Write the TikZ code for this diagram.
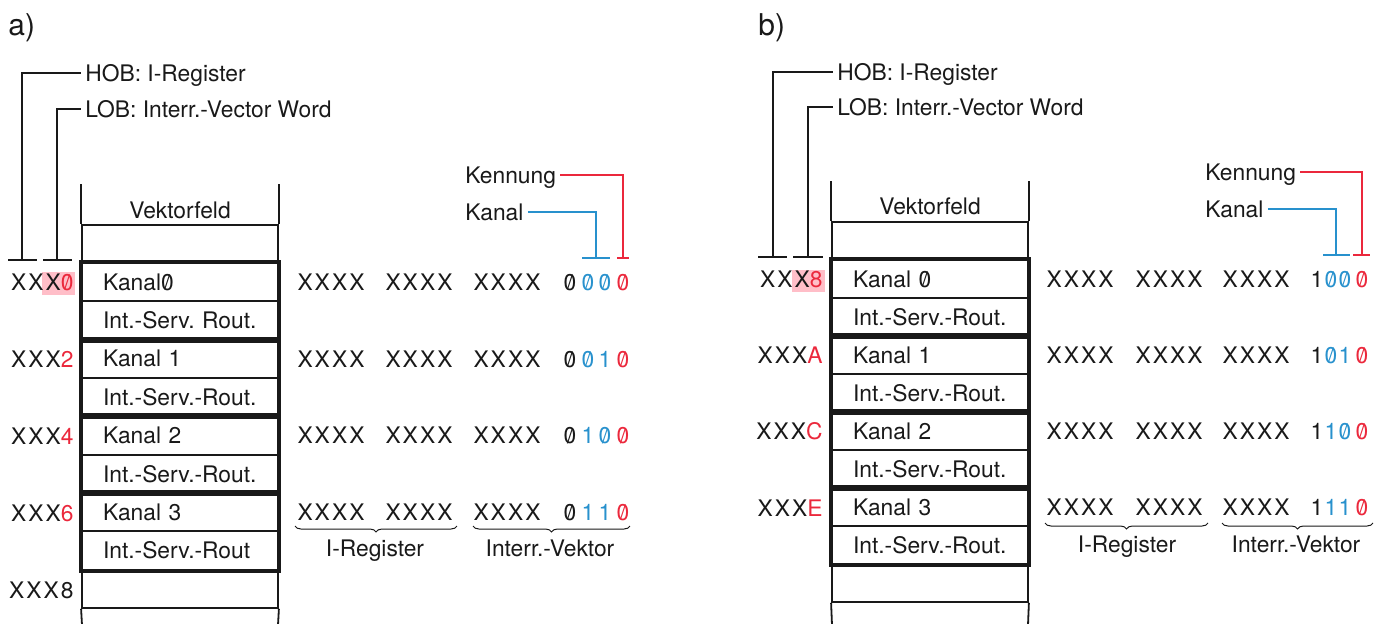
\documentclass[tikz,border=0pt]{standalone}
\usepackage{fontspec}
\setmainfont{TeX Gyre Heros}
\newfontfamily\xfont[LetterSpace=9]{TeX Gyre Heros}
\usetikzlibrary{decorations.pathreplacing}
\definecolor{kred}{RGB}{235,40,60}
\definecolor{kblue}{RGB}{40,145,205}
\definecolor{kpink}{RGB}{255,190,200}
\definecolor{ink}{RGB}{25,25,25}
\frenchspacing
\newcommand\sz{\ooalign{0\cr\hidewidth\raisebox{0.05ex}{\scalebox{0.92}[0.88]{/}}\hidewidth\cr}}
\newcommand\dig[1]{\ifnum#1=0 \sz\else 1\fi}
\begin{document}
\begin{tikzpicture}[x=0.5pt,y=-0.5pt,
  every node/.style={font=\fontsize{11.4}{13}\selectfont, text=ink},
  lbl/.style={inner xsep=2pt, inner ysep=0pt, text height=8.2pt, text depth=0pt},
  ttl/.style={font=\fontsize{15}{17}\selectfont, inner sep=0pt, anchor=base west},
  lne/.style={draw=ink, line width=0.9pt},
  boxA/.style={draw=ink, line width=0.9pt, minimum width=98pt, minimum height=19.17pt,
     text width=77pt, inner xsep=10.5pt, inner ysep=0pt, align=left},
  boxB/.style={boxA, minimum height=19pt},
  pairbox/.style={draw=ink, line width=2pt},
  brc/.style={draw=ink, line width=0.5pt, decorate, decoration={brace, mirror, amplitude=3pt}},
]
\useasboundingbox (0,0) rectangle (1387,623);

% ================= panel a =================
\node[ttl] (atitle) at (8,35) {a)};

% pink highlight
\fill[kpink] (42,272) rectangle (75,295);

% column
\node[boxA] (ahead) at (180,244) {};
\foreach \t [count=\k from 0] in {Kanal\sz, Int.-Serv. Rout., Kanal 1, Int.-Serv.-Rout., Kanal 2, Int.-Serv.-Rout., Kanal 3, Int.-Serv.-Rout, {}}
  \node[boxA] (a\k) at (180,{263+38.33*(\k+0.5)}) {\mbox{\t}};
\draw[lne] (ahead.north west) -- ++(0,-40);
\draw[lne] (ahead.north east) -- ++(0,-40);
\draw[lne] (a8.south west) -- (82,625);
\draw[lne] (a8.south east) -- (278,625);
\node[lbl] (avf) at (180,210) {Vektorfeld};
\foreach \i/\j in {0/1,2/3,4/5,6/7}
  \draw[pairbox] (a\i.north west) rectangle (a\j.south east);

% left addresses
\node[lbl, anchor=east] (aad0) at (78,282) {\xfont XXX\textcolor{kred}{\sz}};
\node[lbl, anchor=east] (aad1) at (78,359) {\xfont XXX\textcolor{kred}{2}};
\node[lbl, anchor=east] (aad2) at (78,436) {\xfont XXX\textcolor{kred}{4}};
\node[lbl, anchor=east] (aad3) at (78,513) {\xfont XXX\textcolor{kred}{6}};
\node[lbl, anchor=east] (aad4) at (78,590) {\xfont XXX8};

% HOB / LOB
\coordinate (ahobL) at (8,260); \coordinate (ahobR) at (37,260); \coordinate (ahobM) at (22,260);
\coordinate (alobL) at (43,260); \coordinate (alobR) at (72,260); \coordinate (alobM) at (57,260);
\draw[lne] (ahobL) -- (ahobR);
\draw[lne] (alobL) -- (alobR);
\node[lbl, anchor=west] (ahob) at (81,73) {HOB: I-Register};
\node[lbl, anchor=west] (alob) at (81,109) {LOB: Interr.-Vector Word};
\draw[lne] (ahobM) |- (ahob.west);
\draw[lne] (alobM) |- (alob.west);

% vector words
\foreach \r/\b/\c in {0/0/0,1/0/1,2/1/0,3/1/1}{
  \pgfmathsetmacro\yy{263+38.33*(2*\r+0.5)}
  \node[lbl] (ar\r g1) at (331,\yy) {\xfont XXXX};
  \node[lbl] (ar\r g2) at (419,\yy) {\xfont XXXX};
  \node[lbl] (ar\r g3) at (507,\yy) {\xfont XXXX};
  \node[lbl] (ar\r d1) at (570,\yy) {\sz};
  \node[lbl, text=kblue] (ar\r d2) at (588,\yy) {\dig{\b}};
  \node[lbl, text=kblue] (ar\r d3) at (605,\yy) {\dig{\c}};
  \node[lbl, text=kred] (ar\r d4) at (623,\yy) {\sz};
}

% Kennung / Kanal
\node[lbl, anchor=west] (aken) at (461,175) {Kennung};
\node[lbl, anchor=west] (akan) at (461,212) {Kanal};
\coordinate (akenT) at (623,258);
\coordinate (akanT) at (596,258);
\draw[kred, line width=0.9pt] (aken.east) -| (akenT);
\draw[kred, line width=0.9pt] ([xshift=-3pt]akenT) -- ([xshift=3pt]akenT);
\draw[kblue, line width=0.9pt] (akan.east) -| (akanT);
\draw[kblue, line width=0.9pt] ([xshift=-7pt]akanT) -- ([xshift=7pt]akanT);

% braces
\coordinate (abr1L) at (295,526); \coordinate (abr1R) at (457,526);
\coordinate (abr2L) at (473,526); \coordinate (abr2R) at (630,526);
\draw[brc] (abr1L) -- (abr1R);
\draw[brc] (abr2L) -- (abr2R);
\node[lbl] (aireg) at (375,548) {I-Register};
\node[lbl] (aivek) at (550,548) {Interr.-Vektor};

% ================= panel b =================
\node[ttl] (btitle) at (758,35) {b)};

\fill[kpink] (792,270) rectangle (825,292);

\node[boxB] (bhead) at (930,241) {};
\foreach \t [count=\k from 0] in {Kanal \sz, Int.-Serv.-Rout., Kanal 1, Int.-Serv.-Rout., Kanal 2, Int.-Serv.-Rout., Kanal 3, Int.-Serv.-Rout., {}}
  \node[boxB] (b\k) at (930,{260+38*(\k+0.5)}) {\mbox{\t}};
\draw[lne] (bhead.north west) -- ++(0,-40);
\draw[lne] (bhead.north east) -- ++(0,-40);
\draw[lne] (b8.south west) -- (832,625);
\draw[lne] (b8.south east) -- (1028,625);
\node[lbl] (bvf) at (930,206) {Vektorfeld};
\foreach \i/\j in {0/1,2/3,4/5,6/7}
  \draw[pairbox] (b\i.north west) rectangle (b\j.south east);

\node[lbl, anchor=east] (bad0) at (827,279) {\xfont XXX\textcolor{kred}{8}};
\node[lbl, anchor=east] (bad1) at (827,355) {\xfont XXX\textcolor{kred}{A}};
\node[lbl, anchor=east] (bad2) at (827,431) {\xfont XXX\textcolor{kred}{C}};
\node[lbl, anchor=east] (bad3) at (827,508) {\xfont XXX\textcolor{kred}{E}};

\coordinate (bhobL) at (758,257); \coordinate (bhobR) at (787,257); \coordinate (bhobM) at (773,257);
\coordinate (blobL) at (793,257); \coordinate (blobR) at (823,257); \coordinate (blobM) at (808,257);
\draw[lne] (bhobL) -- (bhobR);
\draw[lne] (blobL) -- (blobR);
\node[lbl, anchor=west] (bhob) at (833,72) {HOB: I-Register};
\node[lbl, anchor=west] (blob) at (833,107) {LOB: Interr.-Vector Word};
\draw[lne] (bhobM) |- (bhob.west);
\draw[lne] (blobM) |- (blob.west);

\foreach \r/\b/\c in {0/0/0,1/0/1,2/1/0,3/1/1}{
  \pgfmathsetmacro\yy{260+38*(2*\r+0.5)}
  \node[lbl] (br\r g1) at (1080,\yy) {\xfont XXXX};
  \node[lbl] (br\r g2) at (1169,\yy) {\xfont XXXX};
  \node[lbl] (br\r g3) at (1256,\yy) {\xfont XXXX};
  \node[lbl] (br\r d1) at (1317,\yy) {1};
  \node[lbl, text=kblue] (br\r d2) at (1331,\yy) {\dig{\b}};
  \node[lbl, text=kblue] (br\r d3) at (1345,\yy) {\dig{\c}};
  \node[lbl, text=kred] (br\r d4) at (1362,\yy) {\sz};
}

\node[lbl, anchor=west] (bken) at (1201,172) {Kennung};
\node[lbl, anchor=west] (bkan) at (1201,209) {Kanal};
\coordinate (bkenT) at (1362,255);
\coordinate (bkanT) at (1336,255);
\draw[kred, line width=0.9pt] (bken.east) -| (bkenT);
\draw[kred, line width=0.9pt] ([xshift=-4.5pt]bkenT) -- ([xshift=4pt]bkenT);
\draw[kblue, line width=0.9pt] (bkan.east) -| (bkanT);
\draw[kblue, line width=0.9pt] ([xshift=-6.5pt]bkanT) -- ([xshift=7pt]bkanT);

\coordinate (bbr1L) at (1045,523); \coordinate (bbr1R) at (1208,523);
\coordinate (bbr2L) at (1222,523); \coordinate (bbr2R) at (1373,523);
\draw[brc] (bbr1L) -- (bbr1R);
\draw[brc] (bbr2L) -- (bbr2R);
\node[lbl] (bireg) at (1127,544) {I-Register};
\node[lbl] (bivek) at (1296,544) {Interr.-Vektor};
\end{tikzpicture}
\end{document}
